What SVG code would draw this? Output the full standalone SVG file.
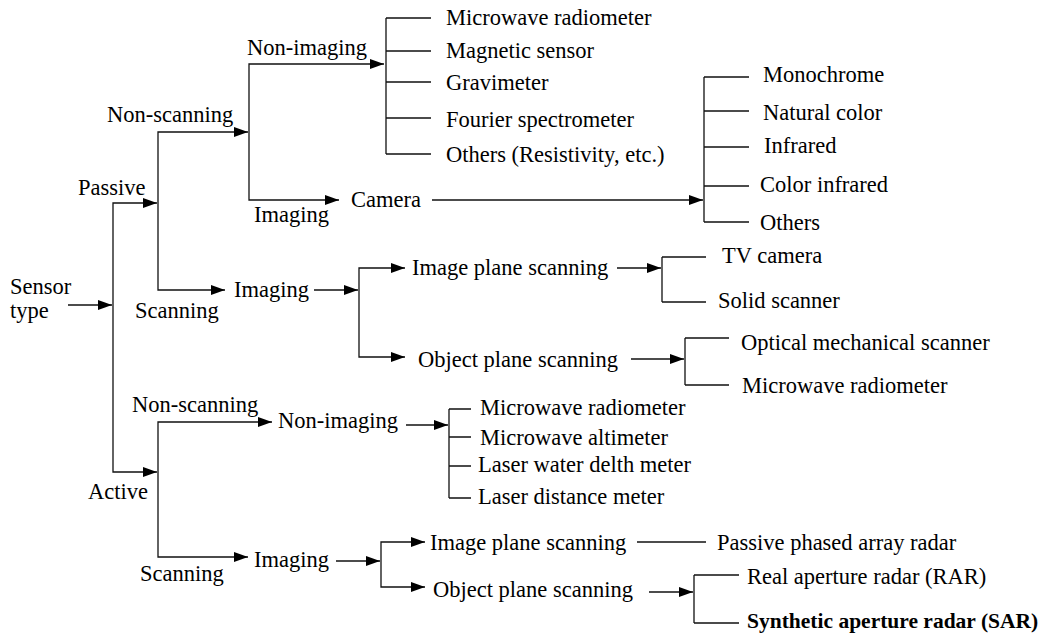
<svg xmlns="http://www.w3.org/2000/svg" width="1054" height="635" viewBox="0 0 1054 635">
<style>
.t text{font-size:22.5px;fill:#000}
.t text.b{font-weight:bold;font-size:21.5px}
.c{fill:none;stroke:#111;stroke-width:1.3}
.a{marker-end:url(#ah)}
</style>
<defs>
<marker id="ah" markerUnits="userSpaceOnUse" markerWidth="14" markerHeight="10" refX="14" refY="5" orient="auto">
<path d="M0,0 L14,5 L0,10 z" fill="#000"/>
</marker>
</defs>
<rect width="1054" height="635" fill="#fff"/>
<g id="connectors">
<path class="c a" d="M68,305 H112"/>
<path class="c a" d="M113,305 V203 H157"/>
<path class="c a" d="M113,305 V472 H157"/>
<path class="c a" d="M158,203 V132 H248"/>
<path class="c a" d="M158,203 V290 H225"/>
<path class="c a" d="M249,132 V64 H384"/>
<path class="c a" d="M249,132 V200 H339"/>
<path class="c" d="M386,18 V154 M386,18 H431 M386,51 H431 M386,82 H431 M386,118 H431 M386,154 H431"/>
<path class="c a" d="M432,200 H703"/>
<path class="c" d="M704,77 V222 M704,77 H749 M704,111 H749 M704,147 H749 M704,186 H749 M704,222 H749"/>
<path class="c a" d="M314,290 H358"/>
<path class="c a" d="M359,290 V268 H405"/>
<path class="c a" d="M359,290 V357 H405"/>
<path class="c a" d="M617,268 H661"/>
<path class="c" d="M662,257 V302 M662,257 H706 M662,302 H706"/>
<path class="c a" d="M631,359 H684"/>
<path class="c" d="M685,338 V385 M685,338 H729 M685,385 H729"/>
<path class="c a" d="M158,472 V422 H272"/>
<path class="c a" d="M158,472 V557 H248"/>
<path class="c a" d="M406,425 H448"/>
<path class="c" d="M449,409 V498 M449,409 H471 M449,437 H471 M449,466 H471 M449,498 H471"/>
<path class="c a" d="M336,561 H380"/>
<path class="c a" d="M381,561 V542 H425"/>
<path class="c a" d="M381,561 V587 H425"/>
<path class="c" d="M637,542 H706"/>
<path class="c a" d="M649,592 H693"/>
<path class="c" d="M694,575 V623 M694,575 H739 M694,623 H739"/>
</g>
<g class="t" font-family="'Liberation Serif', 'Times New Roman', 'DejaVu Serif', serif">
<g id="sensor-type"><text x="10" y="294">Sensor</text><text x="10" y="318">type</text></g>
<g id="passive"><text x="78" y="195">Passive</text></g>
<g id="p-nonscanning"><text x="107" y="122">Non-scanning</text></g>
<g id="p-nonimaging"><text x="247" y="55">Non-imaging</text></g>
<g id="p-imaging"><text x="254" y="222">Imaging</text></g>
<g id="camera"><text x="351" y="207">Camera</text></g>
<g id="p-nonimaging-list">
<text x="446" y="25">Microwave radiometer</text>
<text x="446" y="58">Magnetic sensor</text>
<text x="446" y="90">Gravimeter</text>
<text x="446" y="127">Fourier spectrometer</text>
<text x="446" y="162">Others (Resistivity, etc.)</text>
</g>
<g id="camera-list">
<text x="763" y="82">Monochrome</text>
<text x="763" y="120">Natural color</text>
<text x="764" y="153">Infrared</text>
<text x="760" y="192">Color infrared</text>
<text x="760" y="230">Others</text>
</g>
<g id="p-scanning"><text x="135" y="318">Scanning</text></g>
<g id="p-scan-imaging"><text x="234" y="297">Imaging</text></g>
<g id="p-image-plane"><text x="412" y="275">Image plane scanning</text></g>
<g id="p-object-plane"><text x="418" y="367">Object plane scanning</text></g>
<g id="p-image-plane-list"><text x="722" y="263">TV camera</text><text x="718" y="308">Solid scanner</text></g>
<g id="p-object-plane-list"><text x="741" y="350">Optical mechanical scanner</text><text x="742" y="393">Microwave radiometer</text></g>
<g id="active"><text x="88" y="499">Active</text></g>
<g id="a-nonscanning"><text x="132" y="412">Non-scanning</text></g>
<g id="a-nonimaging"><text x="278" y="428">Non-imaging</text></g>
<g id="a-nonimaging-list">
<text x="480" y="415">Microwave radiometer</text>
<text x="480" y="445">Microwave altimeter</text>
<text x="478" y="472">Laser water delth meter</text>
<text x="478" y="504">Laser distance meter</text>
</g>
<g id="a-scanning"><text x="140" y="581">Scanning</text></g>
<g id="a-imaging"><text x="254" y="567">Imaging</text></g>
<g id="a-image-plane"><text x="430" y="550">Image plane scanning</text></g>
<g id="a-object-plane"><text x="433" y="597">Object plane scanning</text></g>
<g id="passive-phased"><text x="717" y="550">Passive phased array radar</text></g>
<g id="radar-list"><text x="747" y="584">Real aperture radar (RAR)</text><text class="b" x="747" y="628">Synthetic aperture radar (SAR)</text></g>
</g>
</svg>
